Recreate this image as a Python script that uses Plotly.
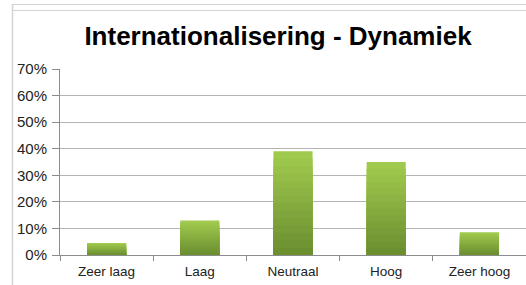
import plotly.graph_objects as go

categories = ["Zeer laag", "Laag", "Neutraal", "Hoog", "Zeer hoog"]
values = [0.045, 0.13, 0.39, 0.35, 0.086]
title_text = "Internationalisering - Dynamiek"

W, H = 526, 285
L, R, T, B = 60, 0, 69, 30
pw, ph = W - L - R, H - T - B

top_col = (160, 202, 78)
bot_col = (104, 138, 46)
steps = 14

fig = go.Figure()
for k in range(steps, 0, -1):
    f = k / steps
    c = tuple(round(bot_col[i] + (top_col[i] - bot_col[i]) * f) for i in range(3))
    fig.add_trace(go.Bar(
        x=categories, y=[v * f for v in values],
        marker=dict(color="rgb(%d,%d,%d)" % c, line=dict(width=0)),
        hoverinfo="skip", showlegend=False,
    ))

def px(x):
    return (x - L) / pw

def py(y):
    return (H - B - y) / ph

border = "#d4d4d4"
shapes = [
    dict(type="line", xref="paper", yref="paper", x0=px(12), x1=px(526), y0=py(4.5), y1=py(4.5), line=dict(color=border, width=1)),
    dict(type="line", xref="paper", yref="paper", x0=px(12), x1=px(526), y0=py(10.5), y1=py(10.5), line=dict(color=border, width=1)),
    dict(type="line", xref="paper", yref="paper", x0=px(12.5), x1=px(12.5), y0=py(4), y1=py(285), line=dict(color=border, width=1.5)),
]

fig.update_layout(
    width=W, height=H,
    margin=dict(l=L, r=R, t=T, b=B),
    paper_bgcolor="white", plot_bgcolor="white",
    barmode="overlay", bargap=0.58,
    font=dict(family="Liberation Sans, Arial, sans-serif", size=13.5, color="#222"),
    title=dict(text="<b>" + title_text + "</b>", x=278 / W, xanchor="center", xref="container",
               y=1 - 36 / H, yanchor="middle", yref="container",
               font=dict(size=26, color="black")),
    shapes=shapes,
    xaxis=dict(showline=True, linecolor="#8c8c8c", linewidth=1, ticks="outside",
               tickson="boundaries", ticklen=5, tickcolor="#8c8c8c", ticklabelstandoff=4,
               showgrid=False, tickfont=dict(size=13.5, color="#222")),
    yaxis=dict(range=[0, 0.7], dtick=0.1, tickformat=".0%", showline=True,
               linecolor="#8c8c8c", linewidth=1, ticks="outside", ticklen=7,
               tickcolor="#8c8c8c", ticklabelstandoff=2,
               showgrid=True, gridcolor="#b4b4b4", gridwidth=1,
               zeroline=False, tickfont=dict(size=15, color="#222")),
)

fig.write_html("out.html", config={"displayModeBar": False},
               post_script="document.body.style.margin='0';")
